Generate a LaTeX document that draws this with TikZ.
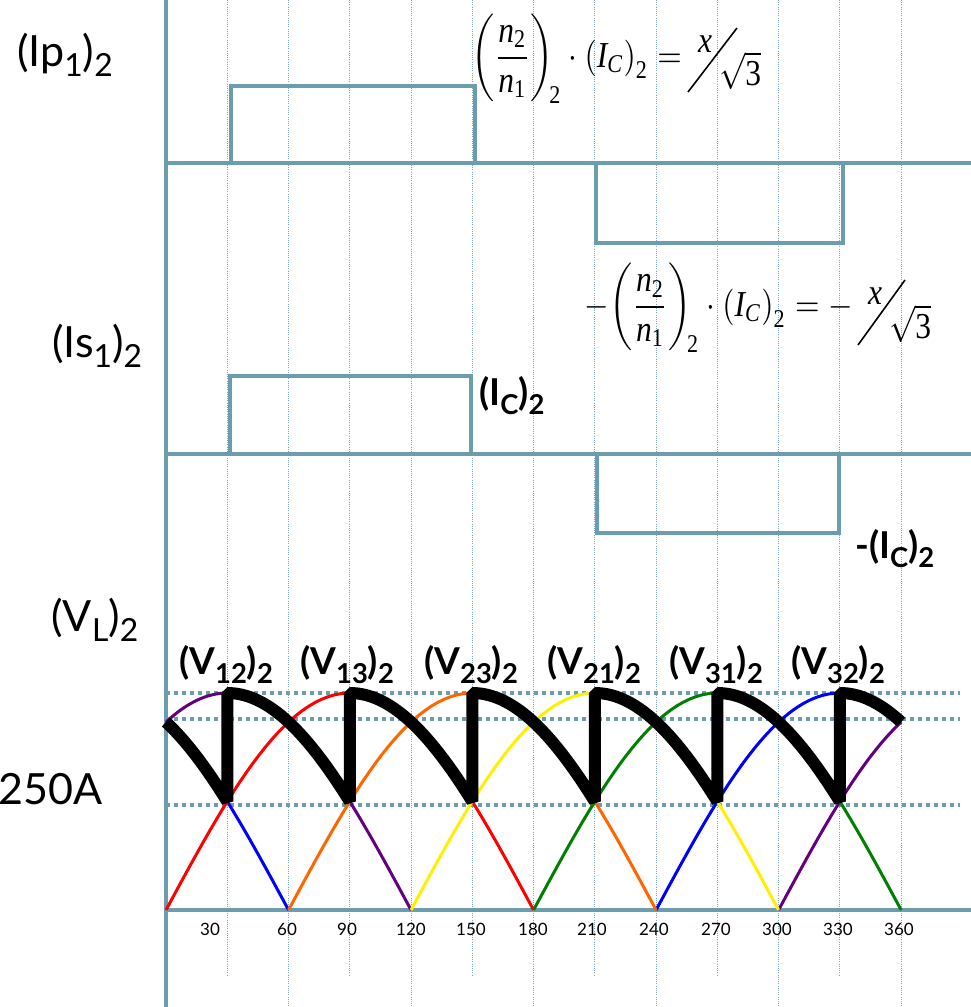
\documentclass[tikz,border=0pt]{standalone}
\usepackage{amsmath}
\usepackage[no-math]{fontspec}
\setmainfont{Lato}
\newfontfamily\tms{Liberation Serif}
\usepackage{graphicx}
\definecolor{axisblue}{RGB}{108,157,175}
\definecolor{gridblue}{RGB}{120,165,185}
\definecolor{vorange}{RGB}{255,102,0}
\definecolor{vyellow}{RGB}{255,240,0}
\definecolor{vgreen}{RGB}{0,128,0}
\definecolor{vblue}{RGB}{0,0,255}
\definecolor{vred}{RGB}{255,0,0}
\definecolor{vpurple}{RGB}{100,0,128}
\newcommand\lo[1]{\raisebox{-0.25em}{\scalebox{0.74}{#1}}}
\newcommand\tn{\text{\tms\itshape n}}
\newcommand\tI{\text{\tms\itshape I}}
\newcommand\tC{\text{\tms\itshape C}}
\newcommand\td[1]{\text{\tms #1}}
\newcommand\ratio{\left(\frac{\tn_{\td2}}{\tn_{\td1}}\right)_{\!\td2}\cdot\left(\tI_{\tC}\right)_{\td2}}
\newcommand\eqs[1]{\scalebox{3.15}[3.65]{#1}}
\begin{document}
\begin{tikzpicture}[x=1pt,y=-1pt,
  axisline/.style={draw=axisblue,line width=4pt},
  pulse/.style={draw=axisblue,line width=3.5pt,line join=miter},
  hdots/.style={draw=axisblue,line width=4pt,dash pattern=on 4pt off 4pt},
  vgrid/.style={draw=gridblue,line width=0.8pt,dash pattern=on 1pt off 1.2pt},
  wave/.style={line width=3pt,samples=60},
  envelope/.style={draw=black,line width=12pt,line join=bevel,samples=40},
  lbl/.style={font=\fontsize{43}{46}\selectfont,inner sep=0pt},
  blbl/.style={font=\bfseries\fontsize{37}{40}\selectfont,inner sep=0pt},
  ilbl/.style={font=\bfseries\fontsize{37}{40}\selectfont,inner sep=0pt},
  tick/.style={font=\fontsize{17}{20}\selectfont,inner sep=0pt},
  eqn/.style={inner sep=0pt},
  slash/.style={draw=black,line width=1.6pt}]
\fill[white] (0,0) rectangle (971,1007);
\useasboundingbox (0,0) rectangle (971,1007);
% vertical dotted grid
\foreach \d in {30,90,150,210,270,330}{\draw[vgrid] ({166+2.042*\d},0) -- ({166+2.042*\d},975);}
\foreach \d in {60,120,180,240,300,360}{\draw[vgrid] ({166+2.042*\d},0) -- ({166+2.042*\d},1007);}
% axes
\draw[axisline] (166,0) -- (166,1007);
\draw[axisline] (166,163) -- (971,163);
\draw[axisline] (166,454) -- (971,454);
\draw[axisline] (166,910) -- (971,910);
% pulses
\draw[pulse] (231,163) -- (231,86) -- (475,86) -- (475,163);
\draw[pulse] (596,163) -- (596,243) -- (843,243) -- (843,163);
\draw[pulse] (230,454) -- (230,376) -- (471,376) -- (471,454);
\draw[pulse] (597,454) -- (597,533) -- (839,533) -- (839,454);
% horizontal dotted levels
\draw[hdots] (166,693) -- (960,693);
\draw[hdots] (166,719) -- (960,719);
\draw[hdots] (166,805) -- (960,805);
% phase voltages
\draw[wave,vpurple] plot[domain=0:120] ({166+2.042*\x},{910-217*sin(\x+60)});
\draw[wave,vpurple] plot[domain=300:360] ({166+2.042*\x},{910-217*sin(\x-300)});
\draw[wave,vblue] plot[domain=0:60] ({166+2.042*\x},{910-217*sin(\x+120)});
\draw[wave,vblue] plot[domain=240:360] ({166+2.042*\x},{910-217*sin(\x-240)});
\draw[wave,vred] plot[domain=0:180] ({166+2.042*\x},{910-217*sin(\x)});
\draw[wave,vorange] plot[domain=60:240] ({166+2.042*\x},{910-217*sin(\x-60)});
\draw[wave,vyellow] plot[domain=120:300] ({166+2.042*\x},{910-217*sin(\x-120)});
\draw[wave,vgreen] plot[domain=180:360] ({166+2.042*\x},{910-217*sin(\x-180)});
% output envelope
\draw[envelope]
  plot[domain=0:30] ({166+2.042*\x},{910-217*sin(\x+120)})
  -- plot[domain=30:90] ({166+2.042*\x},{910-217*sin(\x+60)})
  -- plot[domain=90:150] ({166+2.042*\x},{910-217*sin(\x)})
  -- plot[domain=150:210] ({166+2.042*\x},{910-217*sin(\x-60)})
  -- plot[domain=210:270] ({166+2.042*\x},{910-217*sin(\x-120)})
  -- plot[domain=270:330] ({166+2.042*\x},{910-217*sin(\x-180)})
  -- plot[domain=330:360] ({166+2.042*\x},{910-217*sin(\x-240)});
% left labels
\node[lbl,anchor=base west] (ip) at (17,66) {(Ip\lo{1})\lo{2}};
\node[lbl,anchor=base west] (is) at (52,357) {(Is\lo{1})\lo{2}};
\node[lbl,anchor=base west] (vl) at (51,631) {(V\lo{L})\lo{2}};
\node[lbl,anchor=base west] (amp) at (-2,804) {250A};
% current labels
\node[ilbl,anchor=base west] (ic) at (479,405) {(I\lo{C})\lo{2}};
\node[ilbl,anchor=base west] (mic) at (855,558) {-(I\lo{C})\lo{2}};
% line voltage labels
\node[blbl,anchor=base] (v12) at (226,674) {(V\lo{12})\lo{2}};
\node[blbl,anchor=base] (v13) at (347,674) {(V\lo{13})\lo{2}};
\node[blbl,anchor=base] (v23) at (471,674) {(V\lo{23})\lo{2}};
\node[blbl,anchor=base] (v21) at (594,674) {(V\lo{21})\lo{2}};
\node[blbl,anchor=base] (v31) at (716,674) {(V\lo{31})\lo{2}};
\node[blbl,anchor=base] (v32) at (838,674) {(V\lo{32})\lo{2}};
% ticks
\node[tick,anchor=base] (t30) at (210,935) {30};
\foreach \d/\px in {60/287,90/347,120/411,150/471,180/533,210/592,240/654,270/716,300/777,330/838,360/899}{
  \node[tick,anchor=base] (t\d) at (\px,935) {\d};}
% formula 1
\node[eqn,anchor=east] (eq1) at (682,59) {\eqs{$\displaystyle\ratio=$}};
\node[eqn] (x1) at (705,44) {\eqs{\tms\itshape x}};
\node[eqn] (r1) at (740,71) {\eqs{$\sqrt{\td{3}}$}};
\coordinate (s1a) at (688,92);
\coordinate (s1b) at (737,28);
\draw[slash] (s1a) -- (s1b);
% formula 2
\node[eqn,anchor=east] (eq2) at (853,308) {\eqs{$\displaystyle-\!\ratio=-$}};
\node[eqn] (x2) at (875,296) {\eqs{\tms\itshape x}};
\node[eqn] (r2) at (910,324) {\eqs{$\sqrt{\td{3}}$}};
\coordinate (s2a) at (858,345);
\coordinate (s2b) at (905,280);
\draw[slash] (s2a) -- (s2b);
\end{tikzpicture}
\end{document}
